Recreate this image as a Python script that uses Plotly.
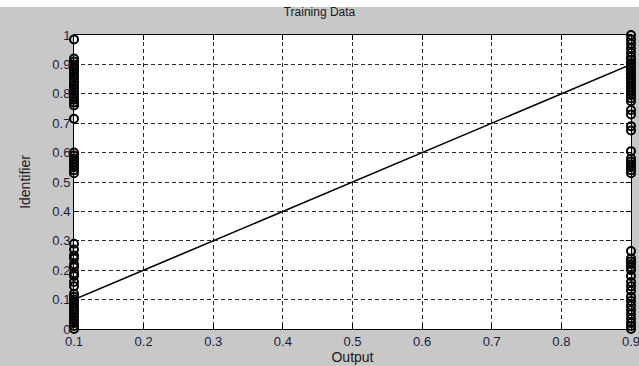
import plotly.graph_objects as go

# Data
left_x_value = 0.1
right_x_value = 0.9
left_y = [0.985,
          0.92, 0.91, 0.90, 0.89, 0.88, 0.87, 0.86, 0.85, 0.84, 0.83, 0.82, 0.81, 0.80, 0.79, 0.78, 0.77, 0.76,
          0.715,
          0.60, 0.59, 0.58, 0.57, 0.56, 0.55, 0.54, 0.53,
          0.29, 0.27, 0.25, 0.24, 0.22, 0.21, 0.19, 0.18, 0.16, 0.145,
          0.12, 0.11, 0.10, 0.09, 0.08, 0.07, 0.06, 0.05, 0.04, 0.03, 0.02, 0.01, 0.0]
right_y = [1.0, 0.985, 0.97, 0.955, 0.94,
           0.925, 0.915, 0.905, 0.895, 0.885, 0.875, 0.865, 0.855, 0.845, 0.835, 0.825, 0.815, 0.805, 0.795, 0.785, 0.775,
           0.745, 0.73, 0.69, 0.675,
           0.605, 0.58, 0.57, 0.56, 0.55, 0.54, 0.53,
           0.265, 0.24, 0.23, 0.22, 0.21, 0.20, 0.18, 0.16, 0.145, 0.13, 0.11, 0.095, 0.08, 0.065, 0.05, 0.035, 0.02, 0.01, 0.0]
line_x = [0.1, 0.9]
line_y = [0.1, 0.9]
x_ticks = [0.1, 0.2, 0.3, 0.4, 0.5, 0.6, 0.7, 0.8, 0.9]
y_ticks = [0, 0.1, 0.2, 0.3, 0.4, 0.5, 0.6, 0.7, 0.8, 0.9, 1]
y_tick_text = ["0", "0.1", "0.2", "0.3", "0.4", "0.5", "0.6", "0.7", "0.8", "0.9", "1"]

fig = go.Figure()
marker = dict(symbol="circle-open", size=8, color="black", line=dict(width=2, color="black"))
fig.add_trace(go.Scatter(x=[left_x_value] * len(left_y), y=left_y, mode="markers",
                         marker=marker, showlegend=False, cliponaxis=False))
fig.add_trace(go.Scatter(x=[right_x_value] * len(right_y), y=right_y, mode="markers",
                         marker=marker, showlegend=False, cliponaxis=False))
fig.add_trace(go.Scatter(x=line_x, y=line_y, mode="lines",
                         line=dict(color="black", width=1.6), showlegend=False))

fig.add_shape(type="rect", xref="paper", yref="paper", x0=-0.2, x1=1.1, y0=1.0 + 28 / 294, y1=1.2,
              fillcolor="white", line=dict(width=0), layer="below")

font = dict(family="Liberation Sans, Arial, sans-serif", color="#1a1a1a", size=12)
axis_common = dict(showline=True, linecolor="black", linewidth=1, mirror="ticks",
                   ticks="inside", ticklen=5, tickcolor="black",
                   showgrid=True, gridcolor="#2a2a2a", griddash="4px,3px", gridwidth=1,
                   zeroline=False, ticklabeloverflow="allow", automargin=False,
                   tickfont=dict(size=13, color="#1a1a40",
                                 family="Liberation Sans, Arial, sans-serif"))
fig.update_layout(
    width=639, height=366,
    margin=dict(l=74, r=8, t=35, b=37),
    paper_bgcolor="#c8c8c8", plot_bgcolor="white",
    font=font,
    title=dict(text="Training Data", x=0.5, xanchor="center", y=1 - 12 / 366, yanchor="middle",
               font=dict(size=12, color="#1a1a1a")),
    xaxis=dict(range=[0.1, 0.9], tickvals=x_ticks, ticktext=[str(v) for v in x_ticks],
               title=dict(text="Output", font=dict(size=14), standoff=0), **axis_common),
    yaxis=dict(range=[0, 1], tickvals=y_ticks, ticktext=y_tick_text,
               title=dict(text="Identifier", font=dict(size=14), standoff=18), **axis_common),
)
fig.write_html("out.html")
